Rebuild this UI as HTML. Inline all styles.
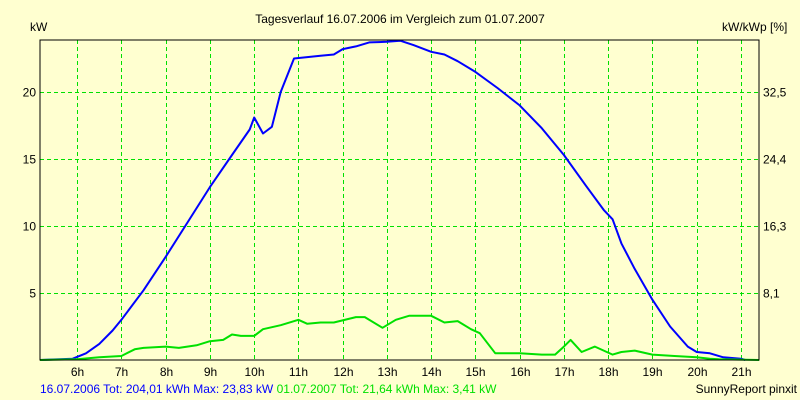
<!DOCTYPE html>
<html><head><meta charset="utf-8"><style>
body{margin:0;background:#ffffd0;}
svg{display:block;font-family:"Liberation Sans",sans-serif;font-size:12px;}
</style></head><body>
<svg width="800" height="400" id="c">
<rect x="0" y="0" width="800" height="400" fill="#ffffd0"/>
<text x="400" y="23" text-anchor="middle" fill="#000">Tagesverlauf 16.07.2006 im Vergleich zum 01.07.2007</text>
<text x="30" y="31" fill="#000">kW</text>
<text x="722" y="31" fill="#000">kW/kWp [%]</text>
<g id="grid"></g>
<g id="series"></g>
<rect x="40" y="40" width="719" height="320" fill="none" stroke="#000" stroke-width="1"/>
<g id="labels"></g>
<text x="40" y="393" fill="#0000ff">16.07.2006 Tot: 204,01 kWh Max: 23,83 kW <tspan fill="#00e000">01.07.2007 Tot: 21,64 kWh Max: 3,41 kW</tspan></text>
<text x="797" y="393" text-anchor="end" fill="#000">SunnyReport pinxit</text>
</svg>
<script>
const xTicks=[6,7,8,9,10,11,12,13,14,15,16,17,18,19,20,21];
const yTicks=[5,10,15,20];
const y2Labels=["8,1","16,3","24,4","32,5"];
const blueH=[5.16,5.9,6.2,6.5,6.8,7,7.5,8,8.5,9,9.5,9.9,10,10.2,10.4,10.6,10.9,11.5,11.8,12,12.3,12.6,13,13.3,13.6,14,14.3,14.6,15,15.5,16,16.5,17,17.5,17.9,18.1,18.3,18.6,19,19.4,19.8,20,20.3,20.6,21,21.1];
const blueV=[0,0.1,0.5,1.2,2.2,3,5.2,7.7,10.3,12.9,15.3,17.2,18.1,16.9,17.4,20,22.5,22.7,22.8,23.2,23.4,23.7,23.75,23.83,23.5,23.0,22.8,22.3,21.5,20.3,19.0,17.3,15.3,13,11.2,10.5,8.7,6.8,4.5,2.5,1.0,0.6,0.5,0.2,0.1,0];
const greenH=[5.16,6,6.5,7,7.3,7.5,8,8.3,8.7,9,9.3,9.5,9.7,10,10.2,10.6,11,11.2,11.5,11.8,12.3,12.5,12.9,13.2,13.5,14,14.3,14.6,14.9,15.1,15.45,16,16.5,16.8,17,17.15,17.4,17.7,18.1,18.3,18.6,19,19.5,20,20.3,20.5,21.41];
const greenV=[0,0.05,0.2,0.3,0.8,0.9,1.0,0.9,1.1,1.4,1.5,1.9,1.8,1.8,2.3,2.6,3.0,2.7,2.8,2.8,3.2,3.2,2.4,3.0,3.3,3.3,2.8,2.9,2.3,2.0,0.5,0.5,0.4,0.4,1.0,1.5,0.6,1.0,0.4,0.6,0.7,0.4,0.3,0.2,0.1,0.05,0];
const X=h=>40+(h-5.16)*44.25;
const Y=v=>360-v*13.4;
const NS="http://www.w3.org/2000/svg";
function mk(t,a,p){const e=document.createElementNS(NS,t);for(const k in a)e.setAttribute(k,a[k]);p.appendChild(e);return e;}
const g=document.getElementById('grid'),L=document.getElementById('labels'),S=document.getElementById('series');
xTicks.forEach(h=>{const x=Math.round(X(h))+0.5;
 const l=mk('line',{x1:x,x2:x,y1:40,y2:360,stroke:'#00e000','stroke-dasharray':'4,3'},g);
 
 
 const t=mk('text',{x:x,y:376,'text-anchor':'middle',fill:'#000'},L);t.textContent=h+'h';
 
 });
yTicks.forEach((v,i)=>{const y=Math.round(Y(v))+0.5;
 const l=mk('line',{x1:40,x2:759,y1:y,y2:y,stroke:'#00e000','stroke-dasharray':'4,3'},g);
 
 
 const t=mk('text',{x:36,y:y+4,'text-anchor':'end',fill:'#000'},L);t.textContent=v;
 
 
 const t2=mk('text',{x:763,y:y+4,fill:'#000'},L);t2.textContent=y2Labels[i];
 
 });
function line(H,V,c,n){const d=H.map((h,i)=>(i?'L':'M')+X(h).toFixed(1)+','+Y(V[i]).toFixed(1)).join('');
 const p=mk('path',{d:d,fill:'none',stroke:c,'stroke-width':2,'stroke-linejoin':'round'},S);
 
 }
line(blueH,blueV,'#0000ff','series-2006-line');
line(greenH,greenV,'#00e000','series-2007-line');
</script>
</body></html>
